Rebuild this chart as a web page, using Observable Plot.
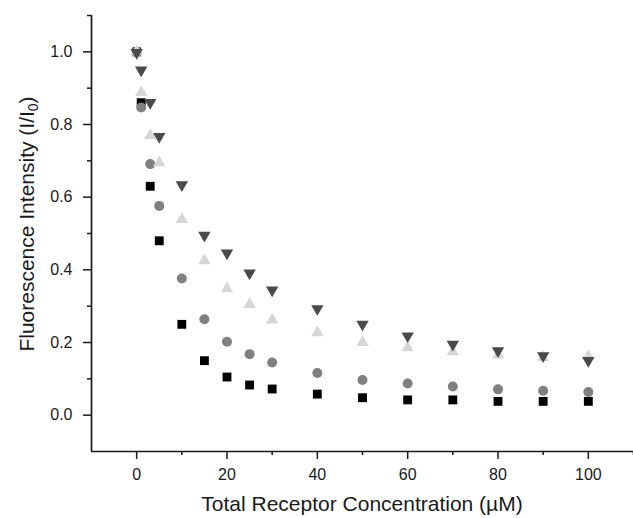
<!DOCTYPE html>
<html>
<head>
<meta charset="utf-8">
<script src="https://cdn.jsdelivr.net/npm/d3@7"></script>
<script src="https://cdn.jsdelivr.net/npm/@observablehq/plot@0.6"></script>
<style>
  html, body { margin: 0; padding: 0; background: #fff; }
</style>
</head>
<body>
<div id="chart"></div>
<script>
// Total receptor concentration (µM)
const concentration = [0, 1, 3, 5, 10, 15, 20, 25, 30, 40, 50, 60, 70, 80, 90, 100];

// I/I0 for each series
const squareSeries   = [1.0, 0.86, 0.63, 0.48, 0.25, 0.15, 0.105, 0.083, 0.072, 0.058, 0.048, 0.042, 0.042, 0.038, 0.038, 0.038];
const circleSeries   = [1.0, 0.847, 0.691, 0.576, 0.376, 0.264, 0.202, 0.168, 0.145, 0.116, 0.097, 0.087, 0.079, 0.071, 0.067, 0.064];
const triUpSeries    = [1.0, 0.888, 0.77, 0.695, 0.539, 0.425, 0.348, 0.305, 0.262, 0.227, 0.20, 0.186, 0.175, 0.166, 0.159, 0.162];
const triDownSeries  = [0.998, 0.95, 0.86, 0.767, 0.634, 0.495, 0.446, 0.391, 0.344, 0.293, 0.25, 0.218, 0.195, 0.177, 0.163, 0.15];

// Tick values
const xMajorTicks = [0, 20, 40, 60, 80, 100];
const xMinorTicks = [10, 30, 50, 70, 90, 110];
const yMajorTicks = [0, 0.2, 0.4, 0.6, 0.8, 1.0];
const yMinorTicks = [0.1, 0.3, 0.5, 0.7, 0.9, 1.1];

const xTitle = "Total Receptor Concentration (\u00B5M)";
const yTitleMain = "Fluorescence Intensity (I/I";
const yTitleSub = "0";
const yTitleEnd = ")";

const triangleDown = {
  draw(context, size) {
    const y = -Math.sqrt(size / (Math.sqrt(3) * 3));
    context.moveTo(0, -y * 2);
    context.lineTo(-Math.sqrt(3) * y, y);
    context.lineTo(Math.sqrt(3) * y, y);
    context.closePath();
  }
};

const rows = (values) => concentration.map((c, i) => ({x: c, y: values[i]}));

const axisColor = "#1a1a1a";

const plot = Plot.plot({
  width: 633,
  height: 518,
  marginLeft: 91,
  marginRight: 0,
  marginTop: 15,
  marginBottom: 67,
  style: {
    fontFamily: "'Liberation Sans', Arial, sans-serif",
    fontSize: "16px",
    color: axisColor,
    background: "#fff",
    overflow: "visible"
  },
  x: {domain: [-10, 110]},
  y: {domain: [-0.1, 1.1]},
  marks: [
    Plot.axisX({ticks: xMajorTicks, tickSize: 8, tickPadding: 9, tickFormat: d => String(d), label: null, strokeWidth: 1.5, fontSize: 16}),
    Plot.axisX({ticks: xMinorTicks, tickSize: 4, tickFormat: () => "", label: null, strokeWidth: 1.5}),
    Plot.axisY({ticks: yMajorTicks, tickSize: 8, tickPadding: 11, tickFormat: d3.format(".1f"), label: null, strokeWidth: 1.5, fontSize: 16}),
    Plot.axisY({ticks: yMinorTicks, tickSize: 4, tickFormat: () => "", label: null, strokeWidth: 1.5}),
    Plot.ruleX([-10], {stroke: axisColor, strokeWidth: 1.7}),
    Plot.ruleY([-0.1], {stroke: axisColor, strokeWidth: 1.7}),
    Plot.dot(rows(squareSeries), {x: "x", y: "y", symbol: "square", r: 5, fill: "#000000", stroke: "none"}),
    Plot.dot(rows(circleSeries), {x: "x", y: "y", symbol: "circle", r: 5, fill: "#808080", stroke: "none"}),
    Plot.dot(rows(triUpSeries), {x: "x", y: "y", symbol: "triangle", r: 4.6, fill: "#d6d6d6", stroke: "none"}),
    Plot.dot(rows(triDownSeries), {x: "x", y: "y", symbol: triangleDown, r: 4.6, fill: "#4a4a4a", stroke: "none"})
  ]
});

const svg = d3.select(plot);

svg.append("text")
  .attr("x", 362)
  .attr("y", 511)
  .attr("text-anchor", "middle")
  .attr("font-size", 21)
  .attr("fill", axisColor)
  .text(xTitle);

const yt = svg.append("text")
  .attr("transform", "translate(34,224) rotate(-90)")
  .attr("text-anchor", "middle")
  .attr("font-size", 21)
  .attr("fill", axisColor);
yt.append("tspan").text(yTitleMain);
yt.append("tspan").attr("font-size", 14).attr("dy", 4).text(yTitleSub);
yt.append("tspan").attr("dy", -4).text(yTitleEnd);

document.getElementById("chart").appendChild(plot);
</script>
</body>
</html>
